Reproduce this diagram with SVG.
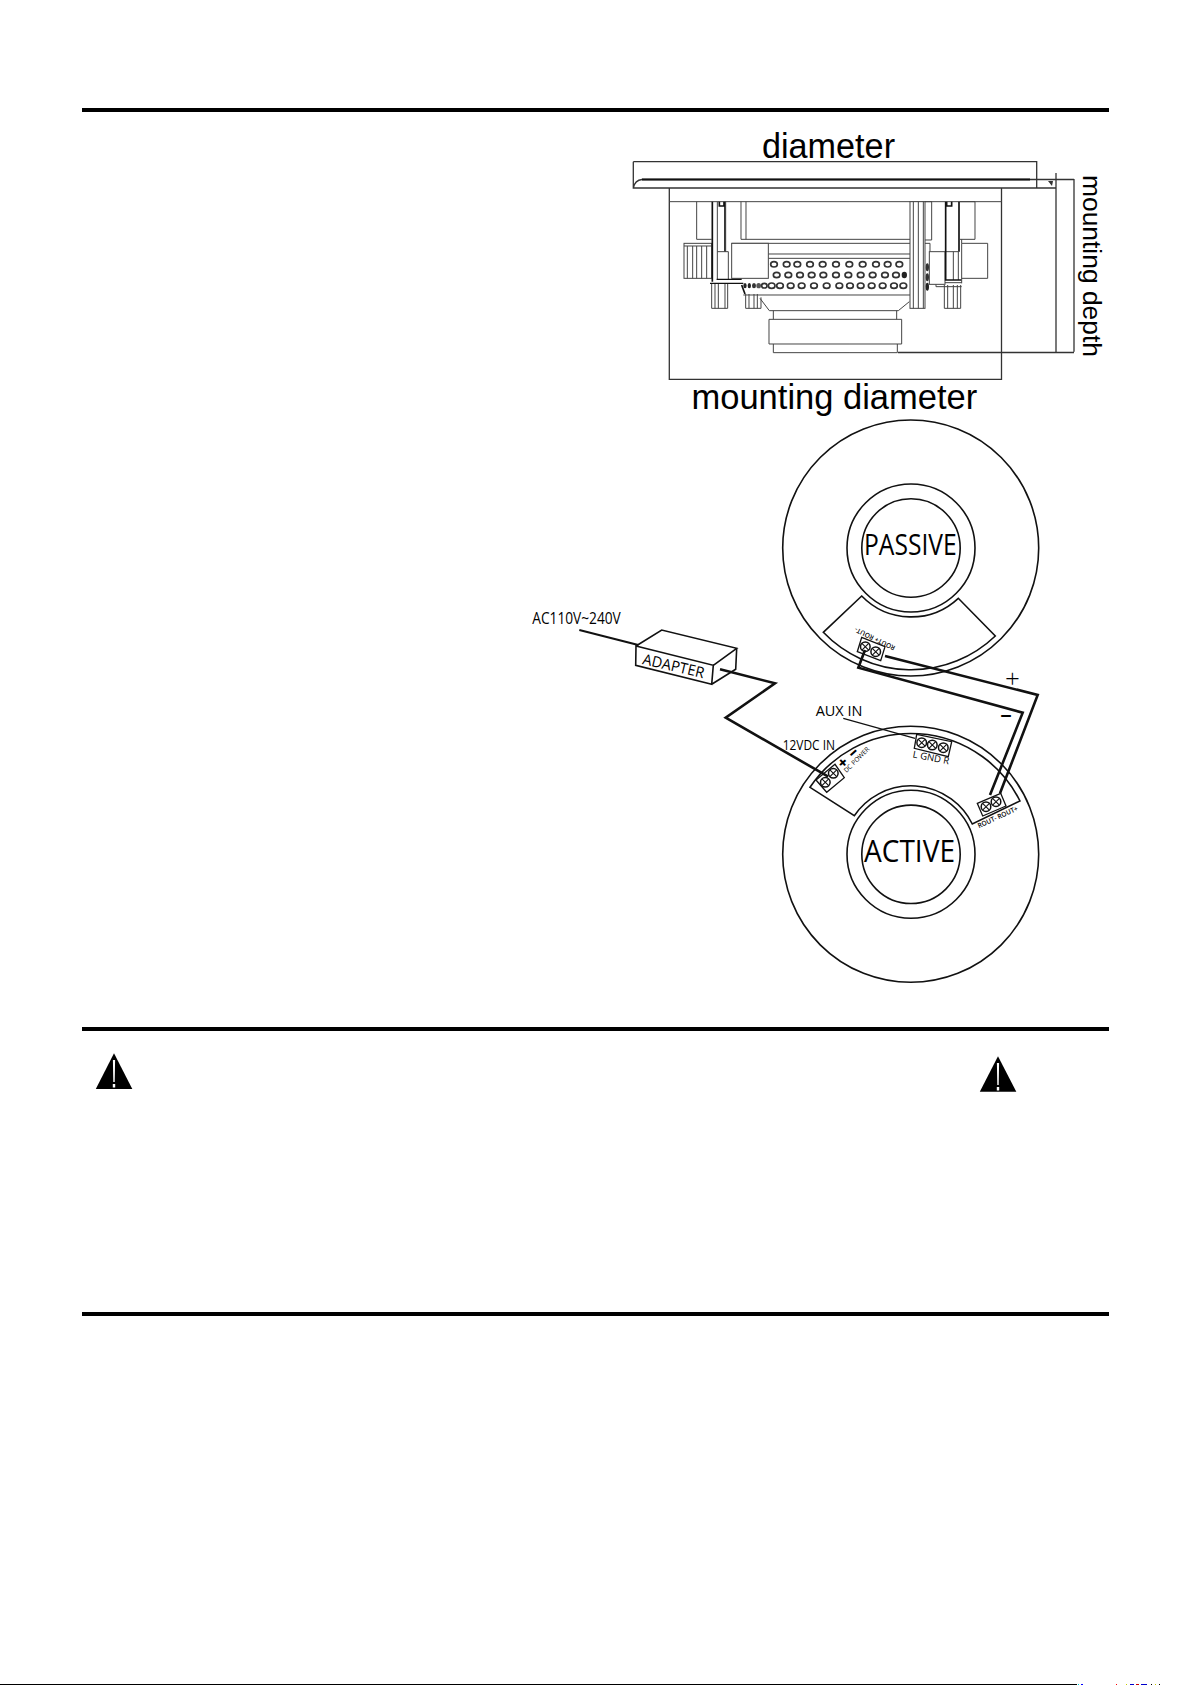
<svg xmlns="http://www.w3.org/2000/svg" width="1192" height="1685" viewBox="0 0 1192 1685">
<style>
.a{font-family:"Liberation Sans",Arial,sans-serif;fill:#000}
.o{font-family:"Open Sans","Noto Sans",sans-serif;fill:#000}
.l{fill:none;stroke:#111;stroke-width:1.6}
.t{fill:#fff;stroke:#111;stroke-width:1.3}
.w{fill:none;stroke:#111;stroke-width:2.6;stroke-linejoin:miter}
.d{fill:none;stroke:#444;stroke-width:3}
.df{fill:#fff;stroke:#444;stroke-width:3}
.k{fill:none;stroke:#111;stroke-width:5}
.h{fill:#fff;stroke:#333;stroke-width:5}
.s{fill:#fff;stroke:#111;stroke-width:1.5}
.x{stroke:#111;stroke-width:1.1}
</style>
<defs>
<g id="screw"><circle r="4.8" class="s"/><path d="M-3.4-3.4L3.4 3.4M-3.4 3.4L3.4-3.4" class="x"/></g>
<ellipse id="hole" rx="10" ry="8" class="h"/>
</defs>
<rect width="1192" height="1685" fill="#fff"/>
<g id="rules" fill="#000">
<rect x="82" y="108" width="1027" height="4"/>
<rect x="82" y="1027" width="1027" height="4"/>
<rect x="82" y="1312" width="1027" height="4"/>
<rect x="0" y="1684" width="1077" height="1"/>
<rect x="1078" y="1684" width="1" height="1" fill="#0cc"/>
<rect x="1081" y="1684" width="2" height="1" fill="#00f"/>
<rect x="1116" y="1684" width="1" height="1" fill="#f00"/>
<rect x="1126" y="1684" width="1" height="1" fill="#cc0"/>
<rect x="1130" y="1684" width="4" height="1" fill="#00c"/>
<rect x="1136" y="1684" width="3" height="1" fill="#c00"/>
<rect x="1141" y="1684" width="6" height="1" fill="#00c"/>
<rect x="1151" y="1684" width="1" height="1" fill="#000"/>
<rect x="1155" y="1684" width="1" height="1" fill="#cc0"/>
<rect x="1159" y="1684" width="1" height="1" fill="#000"/>
</g>
<g id="speaker-dimensions">
<path class="l" d="M633.3 161.7H1036.7V188M633.3 161.7V188H1056M633.3 188Q635 180 642 179.5H1074M669.3 188V379.3H1001.5V188M1056 173V351.7M1074 179V351.7M898 352.5H1074" style="stroke-width:1.3;stroke:#333"/>
<path d="M642 179.5H1030" fill="none" stroke="#111" stroke-width="1.8"/>
<path d="M1048 181H1053L1052 186Z" fill="#333"/>
<text class="a" x="762" y="157.5" font-size="34.2">diameter</text>
<text class="a" x="691.5" y="409" font-size="34.5">mounting diameter</text>
<text class="a" transform="translate(1083,175) rotate(90)" font-size="26.4">mounting depth</text>
</g>
<g id="speaker-left" transform="translate(680,190) scale(.33333)">
<path class="d" d="M-32 35H510M50 35V148H95M183 35V148M198 35V148M183 148H510M155 160H510M265 192H510M265 205H510"/>
<rect class="df" x="12" y="160" width="83" height="105"/>
<path class="d" d="M22 168V265M38 168V265M50 168V265M65 168V265M80 168V265M12 168H95"/>
<path class="k" d="M97 35V275M135 35V185M118 35V48H132V35"/>
<path class="d" d="M112 35V270M112 185H145V270M137 35V185"/>
<rect class="df" x="155" y="160" width="110" height="105"/>
<path class="k" style="stroke-width:4" d="M90 280H190M110 268H185"/>
<path class="d" d="M95 282V355H143V282M105 282V355M115 282V355M135 282V355M197 312V355H243V322M207 312V355M222 312V355M232 312V355"/>
<path class="d" d="M190 315H510M240 325L268 362H510M280 362V388M510 388H267V462H510M280 462V488H510"/>
<path class="k" d="M185 285L195 312"/>
</g>
<g id="speaker-holes" transform="translate(620,110) scale(.33333)">
<use href="#hole" x="462" y="463"/><use href="#hole" x="500" y="463"/><use href="#hole" x="532" y="463"/><use href="#hole" x="570" y="463"/><use href="#hole" x="608" y="463"/><use href="#hole" x="648" y="463"/><use href="#hole" x="688" y="463"/><use href="#hole" x="728" y="463"/><use href="#hole" x="768" y="463"/><use href="#hole" x="803" y="463"/><use href="#hole" x="838" y="463"/>
<use href="#hole" x="470" y="495"/><use href="#hole" x="505" y="495"/><use href="#hole" x="540" y="495"/><use href="#hole" x="575" y="495"/><use href="#hole" x="610" y="495"/><use href="#hole" x="648" y="495"/><use href="#hole" x="685" y="495"/><use href="#hole" x="722" y="495"/><use href="#hole" x="758" y="495"/><use href="#hole" x="795" y="495"/><use href="#hole" x="828" y="495"/>
<ellipse cx="853" cy="495" rx="8" ry="10" fill="#222"/>
<use href="#hole" x="455" y="527"/><use href="#hole" x="480" y="527"/><use href="#hole" x="512" y="527"/><use href="#hole" x="545" y="527"/><use href="#hole" x="582" y="527"/><use href="#hole" x="620" y="527"/><use href="#hole" x="658" y="527"/><use href="#hole" x="690" y="527"/><use href="#hole" x="722" y="527"/><use href="#hole" x="755" y="527"/><use href="#hole" x="788" y="527"/><use href="#hole" x="822" y="527"/><use href="#hole" x="850" y="527"/>
<ellipse cx="375" cy="527" rx="5" ry="8" fill="#222"/><ellipse cx="388" cy="527" rx="5" ry="8" fill="#222"/><ellipse cx="402" cy="527" rx="6" ry="8" fill="#333"/><ellipse cx="416" cy="527" rx="7" ry="8" fill="#555"/><ellipse cx="433" cy="527" rx="8" ry="7" class="h"/>
</g>
<g id="speaker-right" transform="translate(850,190) scale(.33333)">
<path class="d" d="M0 35H455M0 148H180M0 160H180M0 192H180M0 205H180M0 315H180M178 335L145 362H0M140 362V388M0 388H155V462H0M142 462V488H0"/>
<rect class="df" x="180" y="35" width="45" height="320"/>
<path class="d" d="M190 35V355M205 35V355M220 35V355M225 35H245V150H225M225 160H240V185"/>
<ellipse cx="232" cy="232" rx="5" ry="12" fill="#333"/><ellipse cx="232" cy="262" rx="5" ry="12" fill="#333"/><ellipse cx="232" cy="290" rx="5" ry="12" fill="#222"/>
<rect class="df" x="238" y="185" width="47" height="98"/>
<path class="d" d="M258 283V290H335M283 285V355H332V285M293 285V355M310 285V355M322 285V355M285 185H325V270M310 185V270"/>
<path class="k" d="M287 35V270H335M327 35V185M290 35V48H305V35"/>
<path class="d" d="M330 35H375V148H330M335 280V160H413V265H335M335 148V160M285 278H335"/>
</g>
<g id="passive-speaker">
<circle class="l" cx="910.7" cy="548" r="128"/>
<circle class="l" cx="911" cy="548" r="64"/>
<circle class="l" cx="911" cy="548" r="49.2"/>
<path class="l" d="M861.7 596L823.3 632.3A121.7 121.7 0 0 0 995.3 636L958.3 598.3A69 69 0 0 1 861.7 596Z"/>
<text class="o" x="864" y="555" font-size="29" textLength="92.7" lengthAdjust="spacingAndGlyphs">PASSIVE</text>
<polygon class="t" points="861.7,637.3 885,646.7 880.7,660.7 857.3,651.7"/>
<use href="#screw" x="865.3" y="646.7"/><use href="#screw" x="875.7" y="651.7"/>
<text class="o" transform="translate(876,636.7) rotate(205.7)" text-anchor="middle" font-size="6.8" font-weight="600" textLength="44" lengthAdjust="spacingAndGlyphs">ROUT+ ROUT-</text>
</g>
<g id="active-speaker">
<circle class="l" cx="910.7" cy="854.3" r="128"/>
<circle class="l" cx="911" cy="854.3" r="64"/>
<circle class="l" cx="911" cy="854.3" r="49.2"/>
<path class="l" d="M810 787.3A121.7 121.7 0 0 1 1020 801L972.3 824A68.5 68.5 0 0 0 854.3 815.7Z"/>
<text class="o" x="864" y="862.3" font-size="31" textLength="91" lengthAdjust="spacingAndGlyphs">ACTIVE</text>
<polygon class="t" points="816,780 835,764.3 844.3,777.7 826.7,792.3"/>
<use href="#screw" x="825.3" y="782.3"/><use href="#screw" x="833.3" y="773.3"/>
<text class="o" transform="translate(846.2,766.6) rotate(-42)" text-anchor="middle" font-size="15" font-weight="800">+</text>
<text class="o" transform="translate(856.9,756.6) rotate(-42)" text-anchor="middle" font-size="15" font-weight="800">−</text>
<text class="o" transform="translate(846.5,773) rotate(-45)" font-size="6.5" textLength="33" lengthAdjust="spacingAndGlyphs">DC POWER</text>
<polygon class="t" points="916.7,734.3 951.7,741.7 948.3,756.7 914.3,748.3"/>
<use href="#screw" x="921.7" y="742.7"/><use href="#screw" x="932.3" y="745"/><use href="#screw" x="943.3" y="747.7"/>
<text class="o" transform="translate(912.3,757.3) rotate(11)" font-size="9.5" textLength="37" lengthAdjust="spacingAndGlyphs">L GND R</text>
<polygon class="t" points="977.3,803.3 1000.7,793.3 1006,806 982.7,816"/>
<use href="#screw" x="986" y="806.7"/><use href="#screw" x="996" y="801.7"/>
<text class="o" transform="translate(979,828.3) rotate(-24.7)" font-size="6.8" font-weight="600" textLength="43.5" lengthAdjust="spacingAndGlyphs">ROUT- ROUT+</text>
</g>
<g id="adapter">
<path class="l" d="M636 646L713.3 665.3L711.7 684.3L635.7 665.3ZM636 646L661.7 630L736.7 648.3L713.3 665.3M736.7 648.3L735.7 669.3L711.7 684.3"/>
<text class="o" transform="translate(641.7,664) rotate(13)" font-size="15" textLength="63" lengthAdjust="spacingAndGlyphs">ADAPTER</text>
</g>
<g id="connectors">
<path class="w" style="stroke-width:2" d="M579.3 630L638.3 645"/>
<path class="w" d="M720 669.3L775 683.3L725.7 717.7L828.3 776.7"/>
<path class="l" style="stroke-width:1.2" d="M843.3 718.3L915 738.3"/>
<path class="w" d="M885 656L1037.7 695L1000 793.3"/>
<path class="w" d="M865 650L858.3 667.7L1022.7 712.7L990 795"/>
</g>
<g id="labels">
<text class="o" x="532.3" y="624.3" font-size="16" textLength="88.4" lengthAdjust="spacingAndGlyphs">AC110V~240V</text>
<text class="o" x="782.7" y="750" font-size="14.5" textLength="52.3" lengthAdjust="spacingAndGlyphs">12VDC IN</text>
<text class="o" x="815.7" y="716" font-size="14.5" textLength="46.7" lengthAdjust="spacingAndGlyphs">AUX IN</text>
<text class="o" x="1012.3" y="687.5" text-anchor="middle" font-size="26" font-weight="300">+</text>
<text class="o" x="1006" y="723" text-anchor="middle" font-size="20" font-weight="700">−</text>
</g>
<g id="warning-1">
<polygon points="114,1053.3 95.8,1089 132.3,1089" fill="#000"/>
<path d="M112.9 1060H115.1L114.7 1082H113.3ZM112.8 1084H115.2V1087.5H112.8Z" fill="#fff"/>
</g>
<g id="warning-2">
<polygon points="998,1056.3 979.8,1091.7 1016.3,1091.7" fill="#000"/>
<path d="M996.9 1063H999.1L998.7 1085H997.3ZM996.8 1087H999.2V1090.5H996.8Z" fill="#fff"/>
</g>
</svg>
